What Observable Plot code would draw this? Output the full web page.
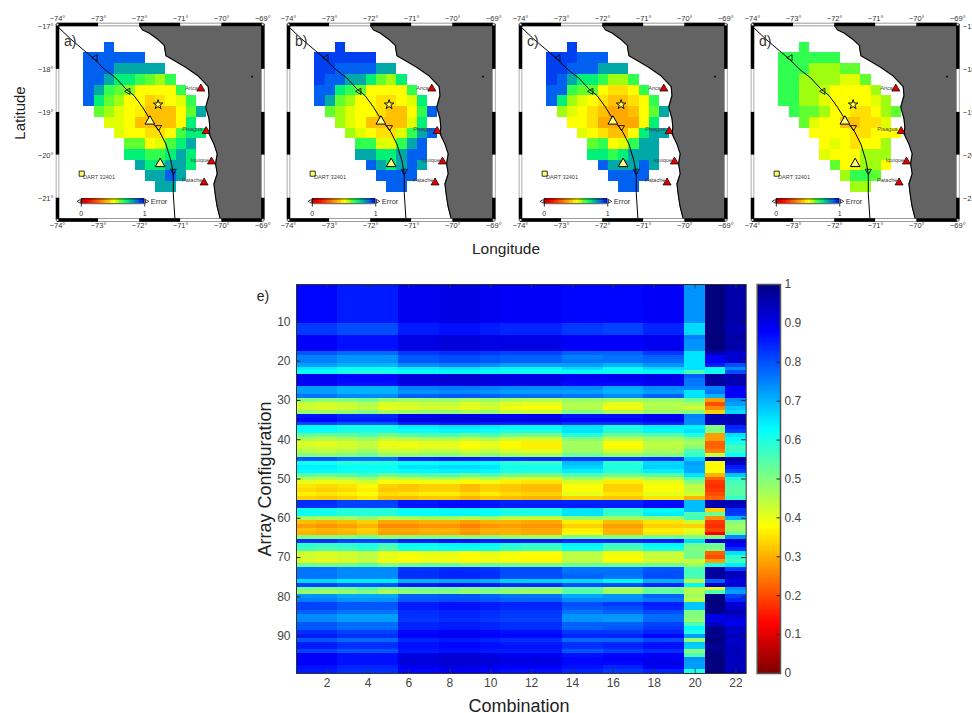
<!DOCTYPE html>
<html><head><meta charset="utf-8">
<script src="https://cdn.jsdelivr.net/npm/d3@7"></script>
<script src="https://cdn.jsdelivr.net/npm/@observablehq/plot@0.6"></script>
<style>
html,body{margin:0;padding:0;background:#fff;overflow:hidden}
#page{position:relative;width:972px;height:713px;overflow:hidden;font-family:"Liberation Sans",Helvetica,Arial,sans-serif;color:#222}
#page svg{position:absolute;background:transparent;overflow:visible}
.t{position:absolute;white-space:nowrap;line-height:1}
</style></head><body><div id="page"></div>
<script>
const _ = null;
// ---------- heat map: error by array configuration (rows 1..99), one profile per family of columns (hundredths)
const colsOneToFive = [86,86,86,86,86,86,86,86,86,86, 81,81,81, 87,87,87,87, 78,74,74,71,63,61, 88,88,87, 71,71,75, 50,43,42,48, 85,86,80, 62,61,53,46,41,42,45,50,78, 60,63,62,54, 45,40,35,34,36, 33, 82,82, 60,60, 47, 31,28,31,30, 50, 82, 58,56, 42,42,41, 52, 75,75,75, 65, 80, 52,48, 72,74, 80,80,77, 73,73, 78,78,82,84,78,84,84,80, 87,87,87, 85, 84];
const colsSixToTen = [89,89,89,89,89,89,89,89,89,89, 85,85,85, 90,90,90,90, 82,79,79,74,64,62, 91,91,90, 75,73,78, 48,43,42,48, 89,90,85, 64,62,55,46,40,40,44,49,84, 62,65,63,55, 45,39,33,33,36, 32, 85,86, 62,62, 47, 30,27,30,29, 50, 85, 62,60, 40,39,39, 53, 82,83,83, 70, 85, 52,50, 78,79, 85,85,83, 83,82, 84,84,87,88,84,86,86,85, 90,91,91, 89, 87];
const colsElevenToThirteen = [88,88,88,88,88,88,88,88,88,88, 84,84,84, 90,90,90,90, 81,78,78,72,63,61, 90,90,90, 74,72,77, 46,41,39,44, 88,90,85, 63,60,52,43,37,37,41,47,83, 58,61,60,52, 42,36,32,32,34, 31, 84,85, 60,60, 44, 30,28,30,30, 48, 85, 59,57, 39,38,38, 52, 80,80,80, 67, 83, 50,48, 76,78, 84,84,82, 82,81, 83,83,86,87,83,85,86,85, 89,90,90, 88, 86];
const colsFourteenFifteen = [87,87,87,87,87,87,87,87,87,87, 82,82,82, 88,88,88,88, 78,75,76,72,66,62, 89,88,87, 74,72,76, 48,45,45,50, 86,87,83, 65,65,59,50,46,47,47,52,82, 69,67,64,55, 47,41,38,38,40, 33, 84,85, 65,65, 48, 36,33,36,37, 51, 84, 63,61, 44,44,44, 52, 76,77,78, 66, 80, 54,54, 71,74, 80,79,76, 73,73, 78,78,82,84,77,83,83,79, 86,87,87, 86, 84];
const colsSixteenSeventeen = [87,87,87,87,87,87,87,87,87,87, 81,81,81, 88,88,88,88, 78,76,76,70,62,61, 89,88,87, 71,70,74, 47,40,39,45, 86,87,83, 60,59,52,44,38,37,42,48,82, 58,60,59,52, 43,36,33,33,35, 32, 84,85, 58,57, 47, 31,28,30,30, 50, 84, 57,55, 39,38,38, 52, 76,77,76, 63, 80, 46,47, 73,74, 82,80,78, 73,72, 78,79,82,84,77,84,84,81, 87,88,87, 84, 82];
const colsEighteenNineteen = [88,88,88,88,88,88,88,88,88,88, 84,84,84, 89,89,89,89, 82,78,77,73,66,63, 90,89,89, 74,72,78, 48,45,45,48, 88,89,85, 64,63,54,47,44,44,46,50,83, 66,67,64,54, 45,40,38,38,40, 35, 86,87, 63,64, 48, 35,33,36,35, 52, 85, 63,60, 43,43,42, 52, 79,80,80, 70, 84, 52,53, 78,76, 85,84,80, 77,77, 81,82,84,87,80,86,86,83, 88,89,90, 88, 84];
const colTwenty = [73,73,73,73,73,73,73,73,73,73, 66,66,66, 75,73,73,73, 65,65,65,65,65,55, 78,76,76, 74,65,65, 52,46,42,50, 75,74,74, 64,65,60,50,46,49,55,57,67, 72,71,71,65, 55,50,44,44,42, 30, 69,69, 69,55, 56, 42,33,40,41, 50, 66, 52,50, 51,51,43, 47, 56,56,55, 44, 63, 44,45, 47,44, 68,68,50, 50,48, 55,63,60,72,48,68,67,50, 55,73,72, 72, 60];
const colTwentyOne = [100,100,100,100,100,100,100,100,100,100, 100,100,100, 100,100,100,100, 95,88,88,85,62,61, 97,97,97, 75,76,70, 28,20,26,33, 95,95,93, 50,50,28,28,22,22,25,43,96, 38,37,38,30, 22,18,17,18,20, 22, 96,95, 33,52, 27, 18,17,19,12, 50, 92, 52,50, 22,20,28, 60, 97,97,97, 78, 92, 40,55, 100,100, 100,99,99, 90,90, 93,98,99,99,100,99,98,99, 100,100,100, 100, 100];
const colTwentyTwo = [96,96,96,96,96,96,96,96,96,96, 95,95,95, 97,96,96,96, 92,92,92,80,74,80, 96,95,95, 88,88,88, 74,72,68,66, 95,95,94, 84,82,65,63,60,56,57,62,97, 93,85,82,68, 58,56,54,54,54, 57, 95,93, 83,82, 70, 50,47,48,52, 74, 92, 88,83, 65,58,56, 64, 82,94,94, 90, 92, 74,72, 81,84, 92,92,95, 92,90, 89,93,93,94,93,93,94,94, 94,94,94, 94, 94];
const columnProfiles = [colsOneToFive,colsOneToFive,colsOneToFive,colsOneToFive,colsOneToFive, colsSixToTen,colsSixToTen,colsSixToTen,colsSixToTen,colsSixToTen, colsElevenToThirteen,colsElevenToThirteen,colsElevenToThirteen, colsFourteenFifteen,colsFourteenFifteen, colsSixteenSeventeen,colsSixteenSeventeen, colsEighteenNineteen,colsEighteenNineteen, colTwenty,colTwentyOne,colTwentyTwo];
// small differences between neighbouring columns, read separately for warm rows and for blue rows
const warmOffsets = [0,-1,0,2,-2, -1,0,0,-2,0, 0,-1,-1, 0,0, 0,0, 0,0, 0,0,0];
const blueOffsets = [1,1,-1,-1,-1, 0,0,1,1,0, 0,0,0, 0,0, 0,0, 0,0, 0,0,0];
const xTicks = [2,4,6,8,10,12,14,16,18,20,22];
const yTicks = [10,20,30,40,50,60,70,80,90];
const barTicks = [0,0.1,0.2,0.3,0.4,0.5,0.6,0.7,0.8,0.9,1];
const jetDomain = [0,0.125,0.375,0.625,0.875,1];
const jetRange = ["#800000","#ff0000","#ffff00","#00ffff","#0000ff","#00007f"];

// ---------- maps: error per grid cell, top row first, left column first (hundredths)
const mapA = [
[_,_,90],[90,90,90,90,90,90],[90,90,90,80,80,80,80,80],[90,90,80,72,72,66,62,58,66],
[90,80,66,62,60,50,50,50,50,66],[90,72,62,58,50,50,44,46,50,54,66],[_,62,58,54,50,48,42,42,42,50,62,80],
[_,_,54,54,50,42,42,42,42,50,72],[_,_,_,54,50,50,46,46,50,64,72,72],[_,_,_,_,62,62,50,54,64,72,80],
[_,_,_,_,72,72,66,66,72,80,72],[_,_,_,_,_,80,72,72,80,80,72],[_,_,_,_,_,_,80,80,90,80],[_,_,_,_,_,_,_,80,80]];
const mapB = [
[_,_,93],[93,93,93,93,93,93],[93,93,90,90,90,90,80,80],[93,90,90,80,80,72,62,58,72],
[90,90,72,66,62,50,50,50,50,66],[90,80,62,58,50,50,46,46,50,54,72],[_,62,58,54,50,50,46,42,42,50,66,90],
[_,_,58,54,50,42,42,42,42,54,72],[_,_,_,58,54,50,46,46,54,66,80,90],[_,_,_,_,66,66,54,54,66,80,90],
[_,_,_,_,80,80,72,72,80,90,90],[_,_,_,_,_,90,80,72,80,90,80],[_,_,_,_,_,_,90,90,90,90],[_,_,_,_,_,_,_,90,90]];
const mapC = [
[_,_,93],[93,93,93,90,90,90],[93,93,90,90,90,80,80,80],[93,90,80,72,72,66,58,58,66],
[90,90,66,62,62,50,46,46,50,66],[90,72,58,54,50,46,42,42,46,50,66],[_,58,54,50,46,42,38,38,42,50,62,80],
[_,_,50,50,46,38,38,38,38,50,72],[_,_,_,54,50,46,42,42,50,72,80,80],[_,_,_,_,62,66,50,54,66,80,80],
[_,_,_,_,72,72,66,72,80,80,80],[_,_,_,_,_,90,80,80,80,90,80],[_,_,_,_,_,_,90,90,90,90],[_,_,_,_,_,_,_,90,90]];
const mapD = [
[_,_,66],[66,66,66,66,66,66],[66,66,66,58,58,58,62,62],[66,66,58,58,58,58,54,54,62],
[66,66,58,58,56,50,50,50,50,58],[66,66,58,58,54,50,50,50,50,54,58],[_,66,62,62,58,50,50,46,46,50,58,62],
[_,_,62,54,50,50,42,42,46,46,54],[_,_,_,50,50,50,50,46,46,50,50,50],[_,_,_,_,50,54,50,46,50,50,58],
[_,_,_,_,54,50,50,50,58,58,58],[_,_,_,_,_,62,50,50,58,58,50],[_,_,_,_,_,_,58,66,66,62],[_,_,_,_,_,_,_,58,58]];
const gridLon0 = -73.36, gridLat0 = -17.366, gridStep = 0.25;
const errorDomain = [0,0.1,0.38,0.42,0.46,0.5,0.54,0.58,0.62,0.66,0.72,0.8,0.9,0.93,1];
const errorRange = ["#c00000","#ff0000","#ffa800","#ffc000","#ffe000","#ffff00","#e0ff00","#a0ff10","#60ff30","#30ff50","#00f078","#00a8a8","#0060f0","#0040f0","#0000c0"];

// ---------- geography
const coastLon = [-72.00,-71.99,-71.93,-71.77,-71.57,-71.40,-71.36,-71.16,-70.88,-70.59,-70.33,-70.31,-70.39,-70.31,-70.29,-70.31,-70.19,-70.11,-70.15,-70.11,-70.19,-70.15,-70.11,-70.03];
const coastLat = [-16.95,-17.00,-17.08,-17.15,-17.29,-17.44,-17.68,-17.79,-17.95,-18.14,-18.40,-18.61,-18.88,-19.15,-19.35,-19.50,-19.74,-19.97,-20.20,-20.43,-20.67,-20.98,-21.21,-21.51];
const trenchLon = [-74,-73.68,-73.35,-73.11,-72.865,-72.58,-72.34,-72.135,-71.93,-71.73,-71.53,-71.36,-71.24,-71.18,-71.18,-71.14];
const trenchLat = [-17,-17.29,-17.56,-17.75,-17.99,-18.20,-18.45,-18.61,-18.88,-19.19,-19.42,-19.74,-20.12,-20.43,-20.90,-21.48];
const faultMarks = [[-73.08,-17.73,-90],[-72.28,-18.51,-90],[-71.54,-19.35,180],[-71.18,-20.37,180]];
const towns = ["Arica","Pisagua","Iquique","Patache"];
const townLon = [-70.51,-70.38,-70.25,-70.43];
const townLat = [-18.45,-19.44,-20.15,-20.64];
const townLabelLon = [-70.58,-70.47,-70.31,-70.47];
const townLabelLat = [-18.43,-19.40,-20.12,-20.59];
const sensorLon = [-71.75,-71.50];
const sensorLat = [-19.21,-20.20];
const lonTicks = [-74,-73,-72,-71,-70,-69];
const latTicks = [-17,-18,-19,-20,-21];
const lonEdges = [-74,-73,-72,-71,-70,-69];
const latEdges = [-16.953,-18,-19,-20,-21,-21.51];
const legendStops = d3.range(0,1,0.02);
const font = '"Liberation Sans",Helvetica,Arial,sans-serif';
const page = document.getElementById("page");
const deg = d => "\u2212" + Math.abs(d) + "\u00b0";

function drawMap(rows, tag, left, latSide) {
  const cells = rows.flatMap((row,r)=>row.map((v,c)=>v==null?null:{x1:gridLon0+c*gridStep,x2:gridLon0+(c+1)*gridStep,y1:gridLat0-r*gridStep,y2:gridLat0-(r+1)*gridStep,v:v/100})).filter(Boolean);
  const coast = coastLon.map((lon,i)=>({lon,lat:coastLat[i]}));
  const trench = trenchLon.map((lon,i)=>({lon,lat:trenchLat[i]}));
  const townRows = towns.map((name,i)=>({name,lon:townLon[i],lat:townLat[i],lx:townLabelLon[i],ly:townLabelLat[i]}));
  const sensors = sensorLon.map((lon,i)=>({lon,lat:sensorLat[i]}));
  const horiz = [latEdges[0],latEdges[5]].flatMap(y=>lonEdges.slice(0,-1).map((a,i)=>({y,a,b:lonEdges[i+1],w:i%2===1})));
  const vert = [-74,-69].flatMap(x=>latEdges.slice(0,-1).map((a,i)=>({x,a,b:latEdges[i+1],w:i%2===1})));
  const corners = lonEdges.filter((d,i)=>i===0||i===5).flatMap(x=>[latEdges[0],latEdges[5]].map(y=>({x,y})));
  const marks = [
    Plot.areaX(coast,{y:"lat",x1:"lon",x2:()=>-69,fill:"#636363"}),
    Plot.rect(cells,{x1:"x1",x2:"x2",y1:"y1",y2:"y2",fill:"v",shapeRendering:"crispEdges"}),
    Plot.line(coast,{x:"lon",y:"lat",stroke:"#000",strokeWidth:1.1}),
    Plot.line(trench,{x:"lon",y:"lat",stroke:"#000",strokeWidth:1}),
    Plot.dot(faultMarks,{x:d=>d[0],y:d=>d[1],rotate:d=>d[2],symbol:"triangle",r:2.3,stroke:"#000",strokeWidth:0.8,fill:"none"}),
    Plot.dot([[-69.26,-18.17]],{x:d=>d[0],y:d=>d[1],r:0.9,fill:"#000"}),
    Plot.dot(sensors,{x:"lon",y:"lat",symbol:"triangle",r:3.6,fill:"#ffff80",stroke:"#000",strokeWidth:1}),
    Plot.dot([[-71.55,-18.82]],{x:d=>d[0],y:d=>d[1],symbol:"star",r:3,fill:"#ffff60",stroke:"#000",strokeWidth:0.9}),
    Plot.dot(townRows,{x:"lon",y:"lat",symbol:"triangle",r:3,fill:"#e00000",stroke:"#000",strokeWidth:0.7}),
    Plot.text(townRows,{x:"lx",y:"ly",text:"name",textAnchor:"end",fontSize:5.6,fill:"#444"}),
    Plot.dot([[-73.41,-20.43]],{x:d=>d[0],y:d=>d[1],symbol:"square",r:2.9,fill:"#ffff70",stroke:"#000",strokeWidth:0.8}),
    Plot.text([[-73.38,-20.52]],{x:d=>d[0],y:d=>d[1],text:()=>"DART 32401",textAnchor:"start",fontSize:5.6,fill:"#444"}),
    Plot.rect(legendStops,{x1:d=>-73.42+d*1.545,x2:d=>-73.42+(d+0.02)*1.545,y1:()=>-21.02,y2:()=>-21.13,fill:d=>d,shapeRendering:"crispEdges"}),
    Plot.ruleY([-21.02,-21.13],{x1:()=>-73.42,x2:()=>-71.875,stroke:"#000",strokeWidth:0.7}),
    Plot.ruleX([-73.42,-71.875],{y1:()=>-21.02,y2:()=>-21.21,stroke:"#000",strokeWidth:0.8}),
    Plot.dot([[-73.47,-90],[-71.83,90]],{x:d=>d[0],y:()=>-21.075,rotate:d=>d[1],symbol:"triangle",r:1.4,fill:"#fff",stroke:"#000",strokeWidth:0.7}),
    Plot.text([[-73.42,"0"],[-71.875,"1"]],{x:d=>d[0],y:()=>-21.37,text:d=>d[1],fontSize:7,fill:"#333"}),
    Plot.text(["Error"],{x:()=>-71.73,y:()=>-21.09,text:d=>d,textAnchor:"start",fontSize:7.5,fill:"#333"}),
    Plot.text([tag],{x:()=>-73.84,y:()=>-17.34,text:d=>d,textAnchor:"start",fontSize:14,fill:"#333"}),
    Plot.ruleY(horiz,{y:"y",x1:"a",x2:"b",stroke:"#777",strokeWidth:3.4}),
    Plot.ruleX(vert,{x:"x",y1:"a",y2:"b",stroke:"#777",strokeWidth:3.4}),
    Plot.ruleY(horiz.filter(d=>!d.w),{y:"y",x1:"a",x2:"b",stroke:"#000",strokeWidth:3.4}),
    Plot.ruleX(vert.filter(d=>!d.w),{x:"x",y1:"a",y2:"b",stroke:"#000",strokeWidth:3.4}),
    Plot.ruleY(horiz.filter(d=>d.w),{y:"y",x1:"a",x2:"b",stroke:"#fff",strokeWidth:2.2}),
    Plot.ruleX(vert.filter(d=>d.w),{x:"x",y1:"a",y2:"b",stroke:"#fff",strokeWidth:2.2}),
    Plot.dot(corners,{x:"x",y:"y",symbol:"square",r:1.3,fill:"#fff",stroke:"#000",strokeWidth:0.5}),
    Plot.axisX({anchor:"top",ticks:lonTicks,tickFormat:deg,tickSize:0,tickPadding:4,fontSize:7.5,fill:"#333",label:null}),
    Plot.axisX({anchor:"bottom",ticks:lonTicks,tickFormat:deg,tickSize:0,tickPadding:3,fontSize:7.5,fill:"#333",label:null})
  ];
  if (latSide) marks.push(Plot.axisY({anchor:latSide,ticks:latTicks,tickFormat:deg,tickSize:0,tickPadding:latSide==="left"?4:5,fontSize:7.5,fill:"#333",label:null}));
  const svg = Plot.plot({
    width:275,height:235,marginLeft:57,marginRight:12.7,marginTop:24,marginBottom:15.5,
    style:{fontFamily:font,background:"transparent",overflow:"visible"},
    x:{domain:[-74,-69]},
    y:latSide?{domain:[-21.51,-16.953]}:{domain:[-21.51,-16.953],axis:null},
    color:{type:"linear",domain:errorDomain,range:errorRange},
    marks
  });
  svg.style.left=left+"px"; svg.style.top="0px";
  page.appendChild(svg);
}
drawMap(mapA,"a)",0,"left");
drawMap(mapB,"b)",231,null);
drawMap(mapC,"c)",463,null);
drawMap(mapD,"d)",694.5,"right");

// heat map
const heat = columnProfiles.flatMap((col,c)=>col.map((v,r)=>({c:c+1,r:r+1,v:(v+(v<60?warmOffsets[c]:blueOffsets[c]))/100})));
const heatSvg = Plot.plot({
  width:496,height:433,marginLeft:41,marginRight:5.3,marginTop:14,marginBottom:30,
  style:{fontFamily:font,background:"transparent",overflow:"visible"},
  x:{domain:[0.5,22.5]},y:{domain:[99.5,0.5]},
  color:{type:"linear",domain:jetDomain,range:jetRange},
  marks:[
    Plot.rect(heat,{x1:d=>d.c-0.5,x2:d=>d.c+0.5,y1:d=>d.r-0.5,y2:d=>d.r+0.5,fill:"v",shapeRendering:"crispEdges"}),
    Plot.ruleX(xTicks,{y1:()=>0.5,y2:()=>1.7,stroke:"#333",strokeOpacity:0.8}),
    Plot.ruleX(xTicks,{y1:()=>99.5,y2:()=>98.3,stroke:"#333",strokeOpacity:0.8}),
    Plot.ruleY(yTicks,{x1:()=>0.5,x2:()=>0.72,stroke:"#222"}),
    Plot.ruleY(yTicks,{x1:()=>22.5,x2:()=>22.28,stroke:"#222"}),
    Plot.axisX({anchor:"bottom",ticks:xTicks,tickSize:0,tickPadding:5,fontSize:12,fill:"#444",label:null}),
    Plot.axisY({anchor:"left",ticks:yTicks,tickSize:0,tickPadding:6,fontSize:12,fill:"#444",label:null}),
    Plot.frame({stroke:"#333",strokeWidth:1})
  ]
});
heatSvg.style.left="255px"; heatSvg.style.top="270px";
page.appendChild(heatSvg);

// colour bar
const barStops = d3.range(0,1,0.004);
const barSvg = Plot.plot({
  width:80,height:433,marginLeft:16.7,marginRight:40,marginTop:14,marginBottom:30,
  style:{fontFamily:font,background:"transparent",overflow:"visible"},
  x:{domain:[0,1],axis:null},y:{domain:[0,1]},
  color:{type:"linear",domain:jetDomain,range:jetRange},
  marks:[
    Plot.rect(barStops,{x1:()=>0,x2:()=>1,y1:d=>d,y2:d=>d+0.004,fill:d=>d,shapeRendering:"crispEdges"}),
    Plot.ruleY(barTicks,{x1:()=>0.85,x2:()=>1,stroke:"#222"}),
    Plot.axisY({anchor:"right",ticks:barTicks,tickFormat:d=>String(d),tickSize:0,tickPadding:4,fontSize:12,fill:"#444",label:null}),
    Plot.frame({stroke:"#555",strokeWidth:1.5})
  ]
});
barSvg.style.left="740px"; barSvg.style.top="270px";
page.appendChild(barSvg);

// page-level texts
function label(text,x,y,size,rot,color){
  const e=document.createElement("div"); e.className="t"; e.textContent=text;
  e.style.left=x+"px"; e.style.top=y+"px"; e.style.fontSize=size+"px"; e.style.color=color||"#222";
  e.style.transform="translate(-50%,-50%)"+(rot?" rotate("+rot+"deg)":"");
  page.appendChild(e);
}
label("Latitude",19,113,15,-90);
label("Longitude",506,249,15.5);
label("Array Configuration",265,479,18,-90);
label("Combination",519,706,18);
label("e)",263,296,14);
</script></body></html>
